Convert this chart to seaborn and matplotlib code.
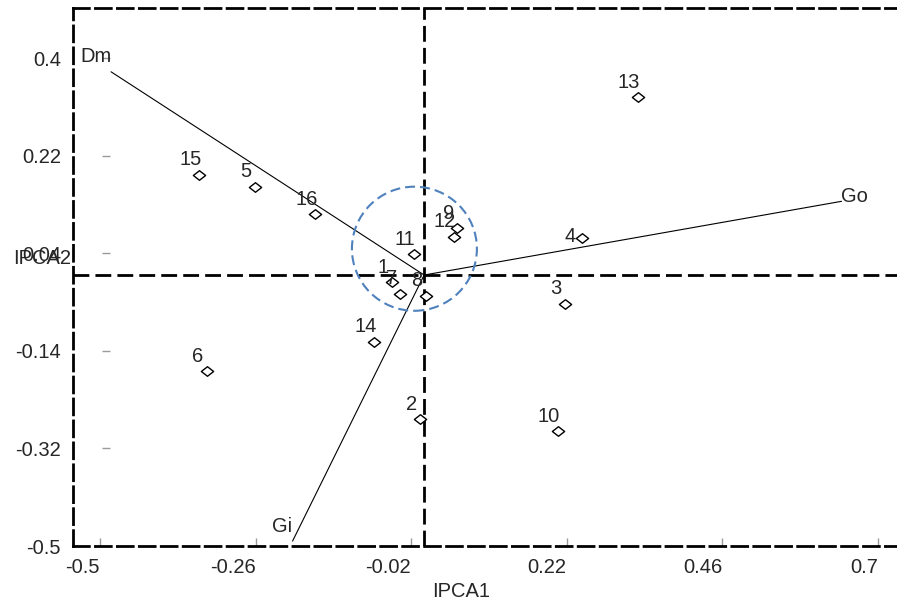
import matplotlib
matplotlib.use("Agg")
import matplotlib.pyplot as plt
from matplotlib.patches import Ellipse
from matplotlib.markers import MarkerStyle
from matplotlib.path import Path
import pandas as pd
import seaborn as sns

# Genotype scores on the first two interaction principal components
genotypes = ["1", "2", "3", "4", "5", "6", "7", "8",
             "9", "10", "11", "12", "13", "14", "15", "16"]
ipca1 = [-0.050, -0.006, 0.217, 0.243, -0.261, -0.335, -0.037, 0.003,
         0.051, 0.206, -0.016, 0.046, 0.330, -0.077, -0.347, -0.168]
ipca2 = [-0.013, -0.266, -0.053, 0.068, 0.163, -0.178, -0.035, -0.038,
         0.086, -0.288, 0.038, 0.071, 0.328, -0.123, 0.185, 0.112]

# Environment vectors
environments = ["Dm", "Go", "Gi"]
env_ipca1 = [-0.483, 0.644, -0.203]
env_ipca2 = [0.375, 0.136, -0.491]

x_ticks = [-0.5, -0.26, -0.02, 0.22, 0.46, 0.7]
y_ticks = [0.4, 0.22, 0.04, -0.14, -0.32, -0.5]

sns.set_style("white")
plt.rcParams["font.family"] = ["Liberation Sans", "DejaVu Sans"]
plt.rcParams["font.size"] = 14.5

fig = plt.figure(figsize=(8.97, 6.07), dpi=100)
ax = fig.add_axes([73 / 897, 61 / 607, 824 / 897, 538 / 607])
ax.set_xlim(-0.5417, 0.7295)
ax.set_ylim(-0.4927, 0.4927)

box_dash = (0, (5.7, 2.2))
for side in ["left", "top", "bottom"]:
    ax.spines[side].set_visible(True)
    ax.spines[side].set_color("black")
    ax.spines[side].set_linewidth(2)
    ax.spines[side].set_linestyle(box_dash)
ax.spines["right"].set_visible(False)

# Origin cross-hair
ax.axhline(0, color="black", lw=2, ls=box_dash, zorder=2)
ax.axvline(0, color="black", lw=2, ls=box_dash, zorder=2)

# Small grey tick marks inside the frame
ax.hlines(y_ticks, -0.497, -0.485, color="#9a9a9a", lw=1, clip_on=False, zorder=1)
ax.vlines(x_ticks, -0.500, -0.486, color="#9a9a9a", lw=1, clip_on=False, zorder=1)

# Environment vectors from the origin
for name, ex, ey in zip(environments, env_ipca1, env_ipca2):
    ax.plot([0, ex], [0, ey], color="black", lw=0.8, zorder=3)
env_offsets = {"Dm": (-10.8, 10.8), "Go": (9.4, 3.6), "Gi": (-7.9, 10.8)}
for name, ex, ey in zip(environments, env_ipca1, env_ipca2):
    ax.annotate(name, (ex, ey), xytext=env_offsets[name], textcoords="offset points",
                ha="center", va="center", fontsize=14.5, zorder=6)

# Stability circle around the origin
ax.add_patch(Ellipse((-0.015, 0.0485), width=0.1928, height=0.229, fill=False,
                     edgecolor="#4F81BD", lw=1.5, ls=(0, (4.8, 2.4)), zorder=4))

# Genotype points as open diamonds
diamond = Path([(-1, 0), (0, 0.78), (1, 0), (0, -0.78), (-1, 0)],
               [Path.MOVETO, Path.LINETO, Path.LINETO, Path.LINETO, Path.CLOSEPOLY])
df = pd.DataFrame({"genotype": genotypes, "IPCA1": ipca1, "IPCA2": ipca2})
sns.scatterplot(data=df, x="IPCA1", y="IPCA2", ax=ax, marker=MarkerStyle(diamond),
                s=78, color="white", edgecolor="black", linewidth=1, zorder=5, legend=False)

label_offsets = {"4": (-8.6, 1.4)}
for g, gx, gy in zip(genotypes, ipca1, ipca2):
    ax.annotate(g, (gx, gy), xytext=label_offsets.get(g, (-6.5, 10.8)),
                textcoords="offset points", ha="center", va="center",
                fontsize=14.5, zorder=6)

# Tick labels
ax.set_xticks(x_ticks)
ax.set_xticklabels([f"{v:g}" for v in x_ticks])
ax.set_yticks(y_ticks)
ax.set_yticklabels([f"{v:g}" for v in y_ticks])
ax.tick_params(axis="both", length=0, labelsize=14.5)
ax.tick_params(axis="x", pad=8.6)
ax.tick_params(axis="y", pad=8.6)
for lab in ax.get_xticklabels():
    lab.set_ha("right")

ax.set_xlabel("IPCA1", fontsize=14.5)
ax.xaxis.set_label_coords(0.471, -0.0855)
ax.xaxis.label.set_va("center")
ax.set_ylabel("IPCA2", fontsize=14.5, rotation=0)
ax.yaxis.set_label_coords(-0.037, 0.5335)
ax.yaxis.label.set_va("center")
ax.yaxis.label.set_ha("center")

fig.savefig("out.png", dpi=100)
